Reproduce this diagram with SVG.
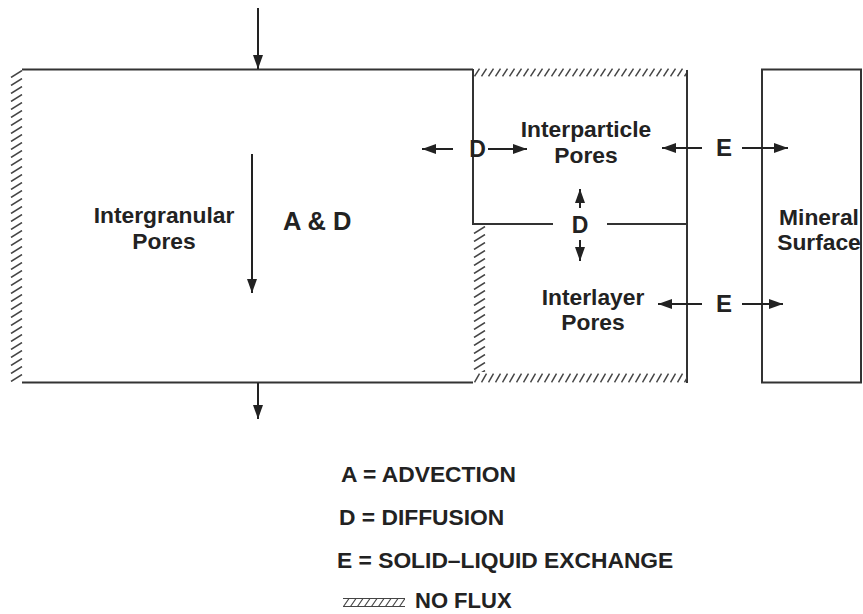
<svg xmlns="http://www.w3.org/2000/svg" width="863" height="614" viewBox="0 0 863 614">
<style>
.ln{stroke:#333;stroke-width:2;fill:none}
.ar{stroke:#222;stroke-width:2;fill:none;marker-end:url(#ah)}
.t{font-family:"Liberation Sans",Arial,Helvetica,sans-serif;font-weight:bold;font-size:22.8px;fill:#222}
.c{text-anchor:middle}
.hs{stroke:#444;stroke-width:1.5;fill:none}
</style>
<defs>
<marker id="ah" markerUnits="userSpaceOnUse" markerWidth="15" markerHeight="11" refX="14" refY="5" orient="auto">
<path d="M0,0 L14,5 L0,10 z" fill="#222"/>
</marker>
<pattern id="hvL" patternUnits="userSpaceOnUse" x="10" y="70" width="14" height="8">
<path class="hs" d="M1,7.5 L12,0.5"/>
</pattern>
<pattern id="hvM" patternUnits="userSpaceOnUse" x="473" y="226" width="14" height="8">
<path class="hs" d="M1,7.5 L12,0.5"/>
</pattern>
<pattern id="hhT" patternUnits="userSpaceOnUse" x="474" y="68" width="7" height="9">
<path class="hs" d="M0.5,8.3 L5.5,0.7"/>
</pattern>
<pattern id="hhB" patternUnits="userSpaceOnUse" x="474" y="373" width="7" height="10">
<path class="hs" d="M0.5,9.3 L5.5,0.7"/>
</pattern>
<pattern id="hhG" patternUnits="userSpaceOnUse" x="343" y="598" width="7" height="9">
<path class="hs" d="M0.5,8.5 L6,0.5" style="stroke-width:1.2"/>
</pattern>
</defs>
<rect width="863" height="614" fill="#fff"/>

<g id="intergranular">
<rect x="10" y="70" width="13" height="312" fill="url(#hvL)"/>
<line class="ln" x1="22" y1="69.5" x2="473" y2="69.5"/>
<line class="ln" x1="22" y1="382.5" x2="473" y2="382.5"/>
<text class="t c" x="164" y="223">Intergranular</text>
<text class="t c" x="164" y="249">Pores</text>
<text class="t" x="283" y="230" style="font-size:25.5px">A &amp; D</text>
</g>

<g id="interparticle">
<rect x="474" y="68" width="214" height="9" fill="url(#hhT)"/>
<line class="ln" x1="473" y1="69" x2="473" y2="225"/>
<line class="ln" x1="472" y1="224" x2="553" y2="224"/>
<line class="ln" x1="607" y1="224" x2="687" y2="224"/>
<line class="ln" x1="687" y1="70" x2="687" y2="383"/>
<text class="t c" x="586" y="137">Interparticle</text>
<text class="t c" x="586" y="163">Pores</text>
</g>

<g id="interlayer">
<rect x="473" y="226" width="13" height="146" fill="url(#hvM)"/>
<rect x="474" y="373" width="213" height="10" fill="url(#hhB)"/>
<text class="t c" x="593" y="305">Interlayer</text>
<text class="t c" x="593" y="330">Pores</text>
</g>

<g id="mineral">
<rect class="ln" x="762" y="69.5" width="99" height="313"/>
<text class="t c" x="819" y="225">Mineral</text>
<text class="t c" x="819" y="250">Surface</text>
</g>

<g id="connectors">
<line class="ar" x1="258" y1="8" x2="258" y2="69"/>
<line class="ar" x1="252" y1="154" x2="252" y2="293"/>
<line class="ar" x1="258" y1="383" x2="258" y2="419"/>
<line class="ar" x1="453" y1="149" x2="422" y2="149"/>
<line class="ar" x1="488" y1="149" x2="527" y2="149"/>
<line class="ar" x1="580" y1="208" x2="580" y2="189"/>
<line class="ar" x1="580" y1="240" x2="580" y2="261"/>
<line class="ar" x1="702" y1="148" x2="662" y2="148"/>
<line class="ar" x1="742" y1="148" x2="788" y2="148"/>
<line class="ar" x1="702" y1="304" x2="658" y2="304"/>
<line class="ar" x1="742" y1="304" x2="783" y2="304"/>
</g>

<g id="labels">
<text class="t c" x="477.5" y="157" style="font-size:23px">D</text>
<text class="t c" x="580" y="233" style="font-size:23px">D</text>
<text class="t c" x="724" y="156" style="font-size:24px">E</text>
<text class="t c" x="724" y="312" style="font-size:24px">E</text>
</g>

<g id="legend">
<text class="t" x="341" y="482">A = ADVECTION</text>
<text class="t" x="339" y="525">D = DIFFUSION</text>
<text class="t" x="337" y="568">E = SOLID–LIQUID EXCHANGE</text>
<rect x="343" y="598" width="62" height="9" fill="url(#hhG)"/>
<line x1="343" y1="598.5" x2="405" y2="598.5" stroke="#444" stroke-width="1"/>
<line x1="343" y1="606.5" x2="405" y2="606.5" stroke="#444" stroke-width="1.2"/>
<text class="t" x="415" y="608" style="font-size:22px">NO FLUX</text>
</g>
</svg>
